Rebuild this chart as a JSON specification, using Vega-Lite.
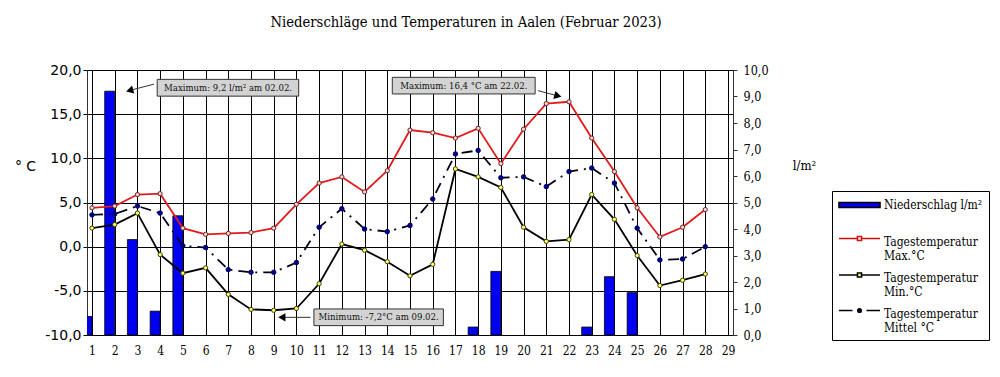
{
  "$schema": "https://vega.github.io/schema/vega-lite/v6.json",
  "width": 646,
  "height": 265,
  "autosize": "none",
  "padding": {"left": 87, "top": 70, "right": 267, "bottom": 42},
  "background": "#ffffff",
  "config": {
    "view": {"stroke": "#333333", "strokeWidth": 1},
    "axis": {"gridColor": "#000000", "gridOpacity": 1, "gridWidth": 1, "tickColor": "#000000", "domainColor": "#333333", "labelColor": "#000000", "titleColor": "#000000"}
  },
  "title": {"text": "Niederschläge und Temperaturen in Aalen (Februar 2023)", "font": "DejaVu Serif Condensed", "fontSize": 14.7, "fontWeight": "normal", "color": "#000000", "anchor": "middle", "frame": "group", "dx": 56, "offset": 21, "baseline": "alphabetic"},
  "datasets": {
    "niederschlag": [
      {"tag": 1, "mm": 0.7}, {"tag": 2, "mm": 9.2}, {"tag": 3, "mm": 3.6}, {"tag": 4, "mm": 0.9},
      {"tag": 5, "mm": 4.5}, {"tag": 6, "mm": 0}, {"tag": 7, "mm": 0}, {"tag": 8, "mm": 0},
      {"tag": 9, "mm": 0}, {"tag": 10, "mm": 0}, {"tag": 11, "mm": 0}, {"tag": 12, "mm": 0},
      {"tag": 13, "mm": 0}, {"tag": 14, "mm": 0}, {"tag": 15, "mm": 0}, {"tag": 16, "mm": 0},
      {"tag": 17, "mm": 0}, {"tag": 18, "mm": 0.3}, {"tag": 19, "mm": 2.4}, {"tag": 20, "mm": 0},
      {"tag": 21, "mm": 0}, {"tag": 22, "mm": 0}, {"tag": 23, "mm": 0.3}, {"tag": 24, "mm": 2.2},
      {"tag": 25, "mm": 1.6}, {"tag": 26, "mm": 0}, {"tag": 27, "mm": 0}, {"tag": 28, "mm": 0}
    ],
    "temperatur": [
      {"tag": 1, "max": 4.4, "min": 2.1, "mittel": 3.6},
      {"tag": 2, "max": 4.6, "min": 2.5, "mittel": 3.7},
      {"tag": 3, "max": 5.9, "min": 3.8, "mittel": 4.6},
      {"tag": 4, "max": 6.0, "min": -0.9, "mittel": 3.8},
      {"tag": 5, "max": 2.1, "min": -3.0, "mittel": 0.1},
      {"tag": 6, "max": 1.4, "min": -2.4, "mittel": -0.1},
      {"tag": 7, "max": 1.5, "min": -5.4, "mittel": -2.6},
      {"tag": 8, "max": 1.6, "min": -7.1, "mittel": -2.9},
      {"tag": 9, "max": 2.1, "min": -7.2, "mittel": -2.9},
      {"tag": 10, "max": 4.8, "min": -7.0, "mittel": -1.8},
      {"tag": 11, "max": 7.2, "min": -4.2, "mittel": 2.2},
      {"tag": 12, "max": 7.9, "min": 0.3, "mittel": 4.3},
      {"tag": 13, "max": 6.2, "min": -0.4, "mittel": 2.0},
      {"tag": 14, "max": 8.6, "min": -1.7, "mittel": 1.7},
      {"tag": 15, "max": 13.2, "min": -3.3, "mittel": 2.4},
      {"tag": 16, "max": 12.9, "min": -2.0, "mittel": 5.4},
      {"tag": 17, "max": 12.3, "min": 8.8, "mittel": 10.5},
      {"tag": 18, "max": 13.4, "min": 7.9, "mittel": 10.9},
      {"tag": 19, "max": 9.4, "min": 6.7, "mittel": 7.8},
      {"tag": 20, "max": 13.3, "min": 2.2, "mittel": 7.9},
      {"tag": 21, "max": 16.2, "min": 0.6, "mittel": 6.8},
      {"tag": 22, "max": 16.4, "min": 0.8, "mittel": 8.5},
      {"tag": 23, "max": 12.3, "min": 5.9, "mittel": 8.9},
      {"tag": 24, "max": 8.5, "min": 3.1, "mittel": 7.2},
      {"tag": 25, "max": 4.4, "min": -1.0, "mittel": 2.1},
      {"tag": 26, "max": 1.1, "min": -4.4, "mittel": -1.5},
      {"tag": 27, "max": 2.2, "min": -3.8, "mittel": -1.4},
      {"tag": 28, "max": 4.2, "min": -3.1, "mittel": 0.0}
    ],
    "annotationen": [
      {"id": "a1", "text": "Maximum: 9,2 l/m² am 02.02.", "x1": 3.87, "x2": 10.1, "y1": 18.94, "y2": 17.04, "xc": 6.99, "yc": 17.99, "ax": 3.73, "ay": 18.4, "hx": 2.71, "hy": 17.72},
      {"id": "a2", "text": "Maximum: 16,4 °C am 22.02.", "x1": 14.22, "x2": 20.51, "y1": 19.17, "y2": 17.29, "xc": 17.37, "yc": 18.23, "ax": 20.64, "ay": 17.66, "hx": 21.46, "hy": 17.1},
      {"id": "a3", "text": "Minimum:  -7,2°C am 09.02.", "x1": 10.77, "x2": 16.47, "y1": -7.05, "y2": -8.94, "xc": 13.62, "yc": -8.0, "ax": 10.62, "ay": -8.0, "hx": 9.41, "hy": -8.0}
    ]
  },
  "layer": [
    {
      "data": {"name": "niederschlag"},
      "transform": [{"filter": "datum.mm > 0"}],
      "mark": {"type": "bar", "size": 10, "xOffset": -5, "fill": "#0000f0", "stroke": "#000000", "strokeWidth": 0.8, "clip": true},
      "encoding": {
        "x": {
          "field": "tag", "type": "quantitative",
          "scale": {"domain": [1, 29], "nice": false, "zero": false},
          "axis": {
            "title": null, "values": [1,2,3,4,5,6,7,8,9,10,11,12,13,14,15,16,17,18,19,20,21,22,23,24,25,26,27,28,29], "tickCount": 40,
            "grid": true, "ticks": false, "tickSize": 0, "domain": false, "labelPadding": 10, "labelFlush": false, "labelOverlap": false,
            "labelFont": "DejaVu Serif Condensed", "labelFontSize": 12, "labelColor": "#000000"
          }
        },
        "y": {
          "field": "mm", "type": "quantitative",
          "scale": {"domain": [0, 10], "nice": false, "zero": true},
          "axis": {
            "orient": "right", "values": [0,1,2,3,4,5,6,7,8,9,10], "tickCount": 20, "grid": false,
            "tickColor": "#333333", "tickSize": 4, "domain": true, "domainColor": "#333333",
            "labelPadding": 6, "labelFont": "DejaVu Serif Condensed", "labelFontSize": 12.5, "labelColor": "#000000",
            "labelExpr": "replace(format(datum.value, '.1f'), '.', ',')",
            "title": "l/m²", "titleAngle": 0, "titleX": 71, "titleY": 95, "titleAlign": "center", "titleBaseline": "middle",
            "titleFont": "DejaVu Serif Condensed", "titleFontSize": 13, "titleFontWeight": "normal"
          }
        }
      }
    },
    {
      "data": {"name": "temperatur"},
      "transform": [{"fold": ["max", "min", "mittel"], "as": ["serie", "wert"]}],
      "encoding": {
        "x": {
          "field": "tag", "type": "quantitative",
          "scale": {"domain": [1, 29], "nice": false, "zero": false},
          "axis": {
            "title": null, "values": [1,2,3,4,5,6,7,8,9,10,11,12,13,14,15,16,17,18,19,20,21,22,23,24,25,26,27,28,29], "tickCount": 40,
            "grid": true, "ticks": false, "tickSize": 0, "domain": false, "labelPadding": 10, "labelFlush": false, "labelOverlap": false,
            "labelFont": "DejaVu Serif Condensed", "labelFontSize": 12, "labelColor": "#000000"
          }
        },
        "y": {
          "field": "wert", "type": "quantitative",
          "scale": {"domain": [-10, 20], "nice": false, "zero": false},
          "axis": {
            "orient": "left", "values": [-10, -5, 0, 5, 10, 15, 20], "tickCount": 20, "grid": true,
            "tickColor": "#000000", "tickSize": 4, "domain": true, "domainColor": "#333333",
            "labelPadding": 2, "labelFont": "DejaVu Sans", "labelFontSize": 14, "labelColor": "#000000",
            "labelExpr": "replace(replace(format(datum.value, '.1f'), '.', ','), '−', '-')",
            "title": "° C", "titleAngle": 0, "titleX": -62, "titleY": 96, "titleAlign": "center", "titleBaseline": "middle",
            "titleFont": "DejaVu Sans", "titleFontSize": 14, "titleFontWeight": "normal"
          }
        }
      },
      "layer": [
        {"transform": [{"filter": "datum.serie == 'max'"}], "mark": {"type": "line", "color": "#e01b1b", "strokeWidth": 1.8}},
        {"transform": [{"filter": "datum.serie == 'min'"}], "mark": {"type": "line", "color": "#000000", "strokeWidth": 1.8}},
        {"transform": [{"filter": "datum.serie == 'mittel'"}], "mark": {"type": "line", "color": "#000018", "strokeWidth": 1.8, "strokeDash": [11, 6, 2, 6]}},
        {"transform": [{"filter": "datum.serie == 'max'"}], "mark": {"type": "point", "shape": "circle", "filled": true, "opacity": 1, "size": 18, "fill": "#f0d4d4", "stroke": "#702020", "strokeWidth": 1}},
        {"transform": [{"filter": "datum.serie == 'min'"}], "mark": {"type": "point", "shape": "circle", "filled": true, "opacity": 1, "size": 18, "fill": "#ffff70", "stroke": "#404000", "strokeWidth": 1}},
        {"transform": [{"filter": "datum.serie == 'mittel'"}], "mark": {"type": "point", "shape": "circle", "filled": true, "opacity": 1, "size": 20, "fill": "#00007a", "stroke": "#00007a", "strokeWidth": 1}},
        {
          "transform": [{"filter": "false"}],
          "mark": {"type": "point", "filled": true, "opacity": 1},
          "encoding": {
            "shape": {
              "field": "serie", "type": "nominal",
              "scale": {"domain": ["nieder", "max", "min", "mittel"], "range": ["M-1,-0.36H4.857V0.36H-1Z", "M-1,-0.43H1.64M2.22,-0.43H4.857M1.64,-0.72H2.22V-0.14H1.64Z", "M-1,-0.43H1.64M2.22,-0.43H4.857M1.64,-0.72H2.22V-0.14H1.64Z", "M-1,-0.43H0.93M2.93,-0.43H4.857M1.68,-0.43A0.25,0.25 0 1,0 2.18,-0.43A0.25,0.25 0 1,0 1.68,-0.43Z"]},
              "legend": {"title": null, "orient": "none", "legendX": 745, "legendY": 121, "direction": "vertical", "strokeColor": "#000000", "fillColor": "#ffffff", "padding": 6, "symbolSize": 196, "symbolStrokeWidth": 1.6, "symbolOpacity": 1, "labelFont": "DejaVu Serif Condensed", "labelFontSize": 12, "labelColor": "#000000", "labelOffset": 30, "labelLimit": 200, "rowPadding": 7.5, "labelBaseline": "middle", "labelExpr": "datum.value == 'nieder' ? ['Niederschlag l/m²', ''] : datum.value == 'max' ? ['Tagestemperatur', 'Max.°C'] : datum.value == 'min' ? ['Tagestemperatur', 'Min.°C'] : ['Tagestemperatur', 'Mittel °C']"}
            },
            "fill": {
              "field": "serie", "type": "nominal",
              "scale": {"domain": ["nieder", "max", "min", "mittel"], "range": ["#0000f0", "#ffffff", "#ffff70", "#00007a"]},
              "legend": {"title": null, "orient": "none", "legendX": 745, "legendY": 121, "direction": "vertical", "strokeColor": "#000000", "fillColor": "#ffffff", "padding": 6, "symbolSize": 196, "symbolStrokeWidth": 1.6, "symbolOpacity": 1, "labelFont": "DejaVu Serif Condensed", "labelFontSize": 12, "labelColor": "#000000", "labelOffset": 30, "labelLimit": 200, "rowPadding": 7.5, "labelBaseline": "middle", "labelExpr": "datum.value == 'nieder' ? ['Niederschlag l/m²', ''] : datum.value == 'max' ? ['Tagestemperatur', 'Max.°C'] : datum.value == 'min' ? ['Tagestemperatur', 'Min.°C'] : ['Tagestemperatur', 'Mittel °C']"}
            },
            "stroke": {
              "field": "serie", "type": "nominal",
              "scale": {"domain": ["nieder", "max", "min", "mittel"], "range": ["#000000", "#d01010", "#000000", "#000000"]},
              "legend": {"title": null, "orient": "none", "legendX": 745, "legendY": 121, "direction": "vertical", "strokeColor": "#000000", "fillColor": "#ffffff", "padding": 6, "symbolSize": 196, "symbolStrokeWidth": 1.6, "symbolOpacity": 1, "labelFont": "DejaVu Serif Condensed", "labelFontSize": 12, "labelColor": "#000000", "labelOffset": 30, "labelLimit": 200, "rowPadding": 7.5, "labelBaseline": "middle", "labelExpr": "datum.value == 'nieder' ? ['Niederschlag l/m²', ''] : datum.value == 'max' ? ['Tagestemperatur', 'Max.°C'] : datum.value == 'min' ? ['Tagestemperatur', 'Min.°C'] : ['Tagestemperatur', 'Mittel °C']"}
            }
          }
        },
        {
          "data": {"name": "annotationen"},
          "mark": {"type": "rect", "fill": "#d3d3d3", "stroke": "#333333", "strokeWidth": 1},
          "encoding": {
            "x": {"field": "x1", "type": "quantitative", "scale": {"domain": [1, 29], "nice": false, "zero": false}},
            "x2": {"field": "x2"},
            "y": {"field": "y1", "type": "quantitative", "scale": {"domain": [-10, 20], "nice": false, "zero": false}},
            "y2": {"field": "y2"}
          }
        },
        {
          "data": {"name": "annotationen"},
          "mark": {"type": "text", "font": "DejaVu Serif Condensed", "fontSize": 9.5, "color": "#111111", "align": "center", "baseline": "middle"},
          "encoding": {
            "x": {"field": "xc", "type": "quantitative", "scale": {"domain": [1, 29], "nice": false, "zero": false}},
            "y": {"field": "yc", "type": "quantitative", "scale": {"domain": [-10, 20], "nice": false, "zero": false}},
            "text": {"field": "text"}
          }
        },
        {
          "data": {"name": "annotationen"},
          "mark": {"type": "rule", "color": "#333333", "strokeWidth": 1},
          "encoding": {
            "x": {"field": "ax", "type": "quantitative", "scale": {"domain": [1, 29], "nice": false, "zero": false}},
            "y": {"field": "ay", "type": "quantitative", "scale": {"domain": [-10, 20], "nice": false, "zero": false}},
            "x2": {"field": "hx"},
            "y2": {"field": "hy"}
          }
        },
        {
          "data": {"name": "annotationen"},
          "transform": [{"filter": "datum.id == 'a1'"}],
          "mark": {"type": "point", "shape": "triangle", "filled": true, "opacity": 1, "size": 70, "color": "#000000", "angle": 255},
          "encoding": {
            "x": {"field": "hx", "type": "quantitative", "scale": {"domain": [1, 29], "nice": false, "zero": false}},
            "y": {"field": "hy", "type": "quantitative", "scale": {"domain": [-10, 20], "nice": false, "zero": false}}
          }
        },
        {
          "data": {"name": "annotationen"},
          "transform": [{"filter": "datum.id == 'a2'"}],
          "mark": {"type": "point", "shape": "triangle", "filled": true, "opacity": 1, "size": 70, "color": "#000000", "angle": 105},
          "encoding": {
            "x": {"field": "hx", "type": "quantitative", "scale": {"domain": [1, 29], "nice": false, "zero": false}},
            "y": {"field": "hy", "type": "quantitative", "scale": {"domain": [-10, 20], "nice": false, "zero": false}}
          }
        },
        {
          "data": {"name": "annotationen"},
          "transform": [{"filter": "datum.id == 'a3'"}],
          "mark": {"type": "point", "shape": "triangle", "filled": true, "opacity": 1, "size": 70, "color": "#000000", "angle": 270},
          "encoding": {
            "x": {"field": "hx", "type": "quantitative", "scale": {"domain": [1, 29], "nice": false, "zero": false}},
            "y": {"field": "hy", "type": "quantitative", "scale": {"domain": [-10, 20], "nice": false, "zero": false}}
          }
        }
      ]
    }
  ],
  "resolve": {"scale": {"y": "independent"}}
}
